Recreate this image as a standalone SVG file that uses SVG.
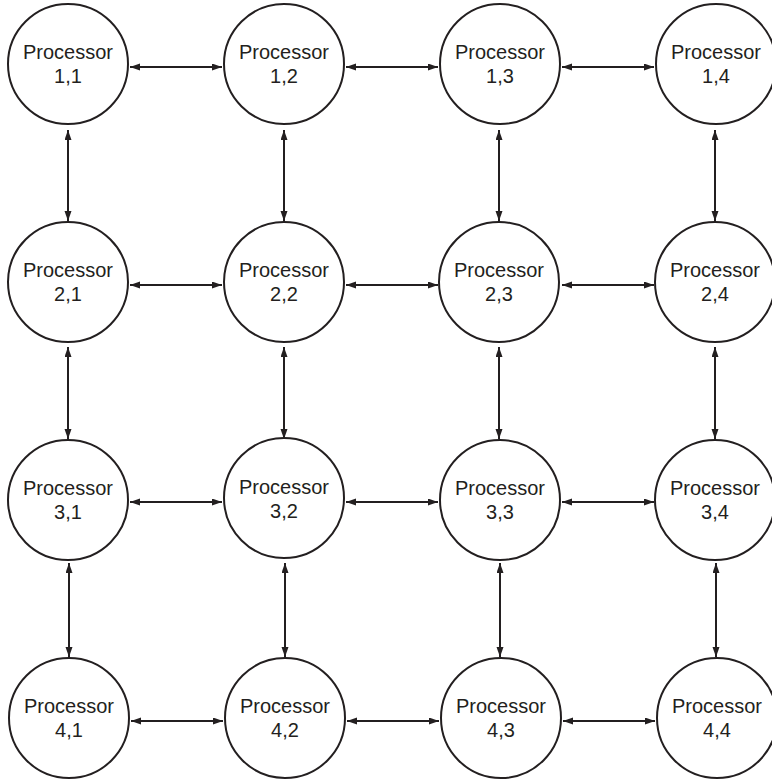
<svg xmlns="http://www.w3.org/2000/svg" width="772" height="779" viewBox="0 0 772 779">
<defs>
<style>
.node circle{fill:#fff;stroke:#231f20;stroke-width:2}
.node text{font-family:"Liberation Sans",Arial,sans-serif;font-size:20px;fill:#231f20;text-anchor:middle}
.conn line{stroke:#231f20;stroke-width:2;marker-start:url(#ah);marker-end:url(#ah)}
</style>
<marker id="ah" markerUnits="userSpaceOnUse" markerWidth="11" markerHeight="8" refX="10" refY="3.5" orient="auto-start-reverse" viewBox="0 0 11 8">
<path d="M0,0 L10,3.5 L0,7 z" fill="#231f20"/>
</marker>
</defs>
<rect width="772" height="779" fill="#fff"/>
<g id="connectors" class="conn">
<line x1="130" y1="67" x2="222" y2="67"/>
<line x1="346" y1="67" x2="438" y2="67"/>
<line x1="562" y1="67" x2="654" y2="67"/>
<line x1="130" y1="285" x2="222" y2="285"/>
<line x1="346" y1="285" x2="438" y2="285"/>
<line x1="562" y1="285" x2="654" y2="285"/>
<line x1="130" y1="502" x2="222" y2="502"/>
<line x1="346" y1="502" x2="438" y2="502"/>
<line x1="562" y1="502" x2="654" y2="502"/>
<line x1="131" y1="721" x2="223" y2="721"/>
<line x1="347" y1="721" x2="439" y2="721"/>
<line x1="563" y1="721" x2="655" y2="721"/>
<line x1="68" y1="130" x2="68" y2="221"/>
<line x1="284" y1="130" x2="284" y2="221"/>
<line x1="499" y1="130" x2="499" y2="221"/>
<line x1="715" y1="130" x2="715" y2="221"/>
<line x1="68" y1="347" x2="68" y2="439"/>
<line x1="284" y1="347" x2="284" y2="439"/>
<line x1="499" y1="347" x2="499" y2="439"/>
<line x1="715" y1="347" x2="715" y2="439"/>
<line x1="69" y1="563" x2="69" y2="657"/>
<line x1="285" y1="563" x2="285" y2="657"/>
<line x1="500" y1="563" x2="500" y2="657"/>
<line x1="716" y1="563" x2="716" y2="657"/>
</g>
<g id="p11" class="node"><circle cx="68" cy="64" r="60"/><text x="68" y="59">Processor</text><text x="68" y="83">1,1</text></g>
<g id="p12" class="node"><circle cx="284" cy="64" r="60"/><text x="284" y="59">Processor</text><text x="284" y="83">1,2</text></g>
<g id="p13" class="node"><circle cx="500" cy="64" r="60"/><text x="500" y="59">Processor</text><text x="500" y="83">1,3</text></g>
<g id="p14" class="node"><circle cx="716" cy="64" r="60"/><text x="716" y="59">Processor</text><text x="716" y="83">1,4</text></g>
<g id="p21" class="node"><circle cx="68" cy="282" r="60"/><text x="68" y="277">Processor</text><text x="68" y="301">2,1</text></g>
<g id="p22" class="node"><circle cx="284" cy="282" r="60"/><text x="284" y="277">Processor</text><text x="284" y="301">2,2</text></g>
<g id="p23" class="node"><circle cx="499" cy="282" r="60"/><text x="499" y="277">Processor</text><text x="499" y="301">2,3</text></g>
<g id="p24" class="node"><circle cx="715" cy="282" r="60"/><text x="715" y="277">Processor</text><text x="715" y="301">2,4</text></g>
<g id="p31" class="node"><circle cx="68" cy="500" r="60"/><text x="68" y="495">Processor</text><text x="68" y="519">3,1</text></g>
<g id="p32" class="node"><circle cx="284" cy="498" r="60"/><text x="284" y="494">Processor</text><text x="284" y="518">3,2</text></g>
<g id="p33" class="node"><circle cx="500" cy="500" r="60"/><text x="500" y="495">Processor</text><text x="500" y="519">3,3</text></g>
<g id="p34" class="node"><circle cx="715" cy="500" r="60"/><text x="715" y="495">Processor</text><text x="715" y="519">3,4</text></g>
<g id="p41" class="node"><circle cx="69" cy="718" r="60"/><text x="69" y="713">Processor</text><text x="69" y="737">4,1</text></g>
<g id="p42" class="node"><circle cx="285" cy="718" r="60"/><text x="285" y="713">Processor</text><text x="285" y="737">4,2</text></g>
<g id="p43" class="node"><circle cx="501" cy="718" r="60"/><text x="501" y="713">Processor</text><text x="501" y="737">4,3</text></g>
<g id="p44" class="node"><circle cx="717" cy="718" r="60"/><text x="717" y="713">Processor</text><text x="717" y="737">4,4</text></g>
</svg>
